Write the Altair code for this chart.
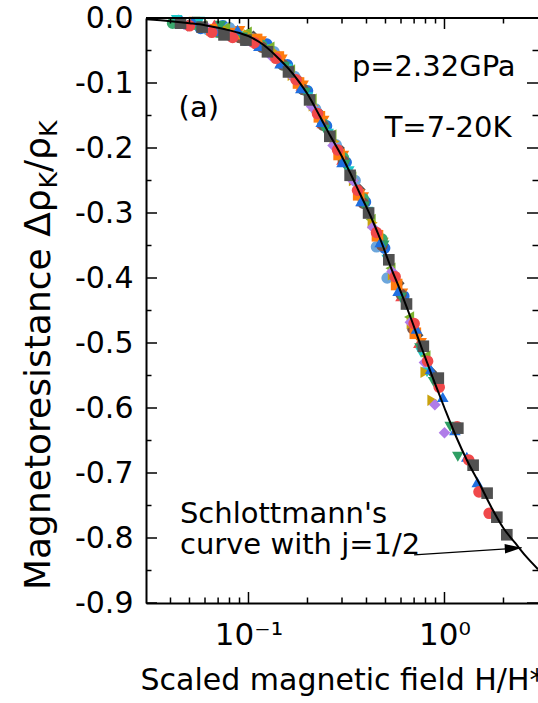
import altair as alt
import pandas as pd

FONT = "DejaVu Sans"
W, H = 392, 585

# ---- Schlottmann's curve (j=1/2)
curve_x = [0.03, 0.04, 0.05, 0.06, 0.07, 0.08, 0.09, 0.10, 0.12, 0.14, 0.16, 0.18, 0.20,
           0.23, 0.26, 0.29, 0.33, 0.37, 0.42, 0.47, 0.53, 0.60, 0.68, 0.77, 0.87, 1.00,
           1.15, 1.30, 1.50, 1.75, 2.00, 2.30, 2.60, 3.00]
curve_y = [-0.002, -0.005, -0.008, -0.011, -0.015, -0.019, -0.023, -0.028, -0.042, -0.060,
           -0.078, -0.097, -0.117, -0.150, -0.180, -0.205, -0.238, -0.270, -0.305, -0.340,
           -0.382, -0.422, -0.465, -0.510, -0.553, -0.600, -0.645, -0.680, -0.715, -0.755,
           -0.785, -0.808, -0.828, -0.848]

# ---- measured data, T = 7-20 K (one list pair per temperature)
grey_x = [0.045, 0.058, 0.075, 0.097, 0.125, 0.16, 0.205, 0.26, 0.33, 0.41, 0.52, 0.64, 0.78, 0.93, 1.17, 1.40, 1.65, 1.85, 2.08]
grey_y = [-0.008, -0.014, -0.026, -0.034, -0.052, -0.083, -0.126, -0.182, -0.242, -0.300, -0.372, -0.440, -0.505, -0.554, -0.631, -0.688, -0.731, -0.768, -0.795]
red_x = [0.05, 0.065, 0.083, 0.107, 0.138, 0.175, 0.225, 0.285, 0.36, 0.45, 0.56, 0.70, 0.82, 0.94, 1.16, 1.33, 1.50, 1.69]
red_y = [-0.012, -0.022, -0.030, -0.038, -0.062, -0.095, -0.147, -0.203, -0.265, -0.330, -0.398, -0.470, -0.528, -0.568, -0.629, -0.680, -0.729, -0.762]
blue_x = [0.052, 0.068, 0.088, 0.113, 0.145, 0.185, 0.235, 0.30, 0.375, 0.47, 0.58, 0.72, 0.85, 0.98, 1.13, 1.30, 1.47]
blue_y = [-0.005, -0.020, -0.018, -0.043, -0.070, -0.108, -0.160, -0.222, -0.282, -0.345, -0.420, -0.478, -0.540, -0.583, -0.634, -0.675, -0.714]
green_x = [0.055, 0.072, 0.093, 0.12, 0.152, 0.195, 0.245, 0.31, 0.39, 0.49, 0.60, 0.75, 0.88, 1.07, 1.17]
green_y = [-0.014, -0.012, -0.030, -0.050, -0.075, -0.115, -0.172, -0.226, -0.290, -0.350, -0.430, -0.508, -0.560, -0.629, -0.675]
purple_x = [0.047, 0.062, 0.08, 0.102, 0.13, 0.165, 0.21, 0.27, 0.34, 0.43, 0.54, 0.67, 0.79, 0.893, 1.0]
purple_y = [-0.010, -0.016, -0.028, -0.036, -0.058, -0.088, -0.136, -0.196, -0.250, -0.322, -0.390, -0.468, -0.530, -0.595, -0.638]
olive_x = [0.058, 0.076, 0.098, 0.128, 0.163, 0.21, 0.265, 0.335, 0.42, 0.53, 0.66, 0.80]
olive_y = [-0.012, -0.015, -0.022, -0.045, -0.080, -0.125, -0.180, -0.245, -0.310, -0.385, -0.460, -0.520]
gold_x = [0.06, 0.078, 0.1, 0.132, 0.168, 0.215, 0.275, 0.345, 0.43, 0.545, 0.68, 0.80, 0.868]
gold_y = [-0.014, -0.020, -0.026, -0.050, -0.088, -0.135, -0.190, -0.250, -0.315, -0.395, -0.470, -0.545, -0.588]
cyan_x = [0.043, 0.056, 0.073, 0.094, 0.122, 0.157, 0.2, 0.255, 0.325, 0.405, 0.51, 0.63, 0.76, 0.815]
cyan_y = [-0.003, -0.006, -0.020, -0.028, -0.048, -0.078, -0.122, -0.178, -0.236, -0.298, -0.372, -0.442, -0.515, -0.545]
orange_x = [0.065, 0.085, 0.11, 0.142, 0.18, 0.23, 0.29, 0.365, 0.455, 0.57, 0.71]
orange_y = [-0.018, -0.024, -0.033, -0.060, -0.100, -0.152, -0.210, -0.272, -0.335, -0.410, -0.485]
brown_x = [0.07, 0.09, 0.117, 0.15, 0.19, 0.24, 0.305, 0.385, 0.48, 0.60, 0.69]
brown_y = [-0.020, -0.030, -0.045, -0.072, -0.110, -0.165, -0.220, -0.285, -0.350, -0.425, -0.478]
lblue_x = [0.062, 0.08, 0.104, 0.135, 0.172, 0.22, 0.28, 0.35, 0.45, 0.51]
lblue_y = [-0.018, -0.015, -0.032, -0.052, -0.090, -0.140, -0.195, -0.250, -0.352, -0.400]
mgreen_x = [0.041, 0.054, 0.07, 0.09, 0.117, 0.15, 0.19, 0.24, 0.305, 0.385, 0.48]
mgreen_y = [-0.008, -0.010, -0.022, -0.030, -0.042, -0.072, -0.110, -0.163, -0.215, -0.278, -0.340]
bluec_x = [0.044, 0.057, 0.074, 0.096, 0.124, 0.158, 0.2, 0.25, 0.315, 0.395, 0.495, 0.62]
bluec_y = [-0.004, -0.016, -0.012, -0.034, -0.040, -0.072, -0.112, -0.166, -0.222, -0.283, -0.354, -0.428]
redt_x = [0.067, 0.087, 0.112, 0.146, 0.186, 0.238, 0.30, 0.38, 0.475, 0.60, 0.74]
redt_y = [-0.010, -0.027, -0.040, -0.068, -0.104, -0.162, -0.218, -0.282, -0.348, -0.428, -0.500]
greyd_x = [0.049, 0.063, 0.082, 0.106, 0.137, 0.176, 0.226, 0.29, 0.37, 0.465, 0.585, 0.73, 0.86]
greyd_y = [-0.012, -0.018, -0.024, -0.028, -0.054, -0.092, -0.144, -0.200, -0.264, -0.335, -0.408, -0.488, -0.545]
oranget_x = [0.053, 0.069, 0.09, 0.116, 0.148, 0.19, 0.242, 0.305, 0.385, 0.485, 0.61, 0.76]
oranget_y = [-0.006, -0.018, -0.020, -0.036, -0.064, -0.104, -0.158, -0.212, -0.276, -0.346, -0.424, -0.500]

series_names = ["bluec", "redt", "greyd", "oranget", "mgreen", "cyan", "lblue", "brown",
                "orange", "olive", "gold", "purple", "green", "blue", "red", "grey"]
series_colors = ["#1F6FE0", "#F0484A", "#505050", "#FF7B0F", "#3AAA6E", "#1EC8C8", "#6CA6DC",
                 "#7A5349", "#FF7B0F", "#7BB32E", "#C9A20C", "#B07CE8", "#2E9E63", "#1F6FE0",
                 "#F0484A", "#505050"]
series_shapes = ["circle", "triangle-up", "diamond", "triangle-down", "circle", "triangle-down",
                 "circle", "circle", "square", "triangle-left", "triangle-right", "diamond",
                 "triangle-down", "triangle-up", "circle", "square"]
series_data = {
    "bluec": (bluec_x, bluec_y), "redt": (redt_x, redt_y), "greyd": (greyd_x, greyd_y),
    "oranget": (oranget_x, oranget_y),
    "mgreen": (mgreen_x, mgreen_y), "cyan": (cyan_x, cyan_y), "lblue": (lblue_x, lblue_y),
    "brown": (brown_x, brown_y), "orange": (orange_x, orange_y), "olive": (olive_x, olive_y),
    "gold": (gold_x, gold_y), "purple": (purple_x, purple_y), "green": (green_x, green_y),
    "blue": (blue_x, blue_y), "red": (red_x, red_y), "grey": (grey_x, grey_y),
}

# ---- axis ticks
x_major = [0.1, 1.0]
x_minor = [0.04, 0.05, 0.06, 0.07, 0.08, 0.09, 0.2, 0.3, 0.4, 0.5, 0.6, 0.7, 0.8, 0.9, 2.0]
y_major = [-0.9, -0.8, -0.7, -0.6, -0.5, -0.4, -0.3, -0.2, -0.1, 0.0]
y_minor = [-0.85, -0.75, -0.65, -0.55, -0.45, -0.35, -0.25, -0.15, -0.05]

# ---- annotations
ann_text = ["(a)", "p=2.32GPa", "T=7-20K", "Schlottmann's", "curve with j=1/2"]
ann_x = [0.0440, 0.337, 0.495, 0.0447, 0.0447]
ann_y = [-0.152, -0.089, -0.183, -0.777, -0.8246]
arrow_x = [0.70, 2.48]
arrow_y = [-0.826, -0.815]

rows = []
for name in series_names:
    xs, ys = series_data[name]
    for a, b in zip(xs, ys):
        rows.append({"x": a, "y": b, "s": name})
df = pd.DataFrame(rows)

xscale = alt.Scale(type="log", domain=[0.03, 3])
yscale = alt.Scale(domain=[-0.9, 0.0], nice=False, zero=False)

xaxis = alt.Axis(values=x_major, labelExpr="datum.value < 0.5 ? '10⁻¹' : '10⁰'",
                 ticks=False, tickSize=0, domainColor="black", domainWidth=2, grid=False,
                 labelFont=FONT, labelFontSize=31, labelColor="black", labelPadding=17,
                 labelFlush=False, labelOverlap=False,
                 title="Scaled magnetic field H/H*", titleFont=FONT, titleFontSize=30,
                 titleFontWeight="normal", titleColor="black", titlePadding=15)
yaxis = alt.Axis(values=y_major,
                 labelExpr="datum.value < -0.001 ? '-' + format(-datum.value, '.1f') : '0.0'",
                 ticks=False, tickSize=0, domainColor="black", domainWidth=2, grid=False,
                 labelFont=FONT, labelFontSize=30, labelColor="black", labelPadding=13,
                 labelFlush=False, labelOverlap=False, title=None)


def X(f):
    return alt.X(f, type="quantitative", scale=xscale, axis=xaxis)


def Y(f):
    return alt.Y(f, type="quantitative", scale=yscale, axis=yaxis)


points = alt.Chart(df).mark_point(filled=True, opacity=1, size=135, strokeWidth=0).encode(
    x=X("x"), y=Y("y"),
    color=alt.Color("s:N", scale=alt.Scale(domain=series_names, range=series_colors), legend=None),
    shape=alt.Shape("s:N", scale=alt.Scale(domain=series_names, range=series_shapes), legend=None),
)

curve = alt.Chart(pd.DataFrame({"x": curve_x, "y": curve_y})).mark_line(
    color="black", strokeWidth=2, interpolate="monotone").encode(x=X("x"), y=Y("y"))

arrow_line = alt.Chart(pd.DataFrame({"x": arrow_x, "y": arrow_y})).mark_line(
    color="black", strokeWidth=1.2).encode(x=X("x"), y=Y("y"))
arrow_head = alt.Chart(pd.DataFrame({"x": arrow_x[1:], "y": arrow_y[1:]})).mark_point(
    shape="M0,0L-1,-0.28L-1,0.28Z", filled=True, color="black", opacity=1, size=1156,
    angle=356.5, strokeWidth=0).encode(x=X("x"), y=Y("y"))

ann = alt.Chart(pd.DataFrame({"x": ann_x, "y": ann_y, "t": ann_text})).mark_text(
    align="left", baseline="alphabetic", font=FONT, fontSize=29, color="black").encode(
    x=X("x"), y=Y("y"), text="t:N")


def rule_x(vals, y0, y1):
    return alt.Chart(pd.DataFrame({"x": vals})).mark_rule(color="black", strokeWidth=1.5).encode(
        x=X("x"), y=alt.value(y0), y2=alt.value(y1))


def rule_y(vals, x0, x1):
    return alt.Chart(pd.DataFrame({"y": vals})).mark_rule(color="black", strokeWidth=1.5).encode(
        y=Y("y"), x=alt.value(x0), x2=alt.value(x1))


ticks = [
    rule_x(x_major, H, H - 11), rule_x(x_minor, H, H - 5.5),
    rule_x(x_major, 0, 11), rule_x(x_minor, 0, 5.5),
    rule_y(y_major, 0, 11), rule_y(y_minor, 0, 5.5),
    rule_y(y_major, W, W - 11), rule_y(y_minor, W, W - 5.5),
]
top_line = alt.Chart(pd.DataFrame({"a": [0]})).mark_rule(color="black", strokeWidth=2).encode(
    x=alt.value(0), x2=alt.value(W), y=alt.value(0))

# rotated y title with subscripts
TF = 36
title_bx = -96
title_y0 = 572
w_main = 11.15 * TF
w_sub = 0.656 * 0.7 * TF
w_mid = 0.972 * TF
ytitle_parts = [
    ("Magnetoresistance Δρ", TF, title_bx, title_y0),
    ("K", 0.7 * TF, title_bx + 0.2 * TF, title_y0 - w_main),
    ("/ρ", TF, title_bx, title_y0 - w_main - w_sub),
    ("K", 0.7 * TF, title_bx + 0.2 * TF, title_y0 - w_main - w_sub - w_mid),
]
ytitle = []
for t, fs, bx, by in ytitle_parts:
    ytitle.append(alt.Chart(pd.DataFrame({"t": [t]})).mark_text(
        align="left", baseline="alphabetic", angle=270, font=FONT, fontSize=fs,
        color="black").encode(x=alt.value(bx), y=alt.value(by), text="t:N"))

chart = alt.layer(points, curve, arrow_line, arrow_head, ann, top_line, *ticks, *ytitle).properties(
    width=W, height=H,
    padding={"left": 146, "top": 18, "right": 0, "bottom": 100},
    autosize=alt.AutoSizeParams(type="none"),
    background="white",
).configure_view(strokeWidth=0)

chart.save("out.html", embed_options={"renderer": "svg", "actions": False})
